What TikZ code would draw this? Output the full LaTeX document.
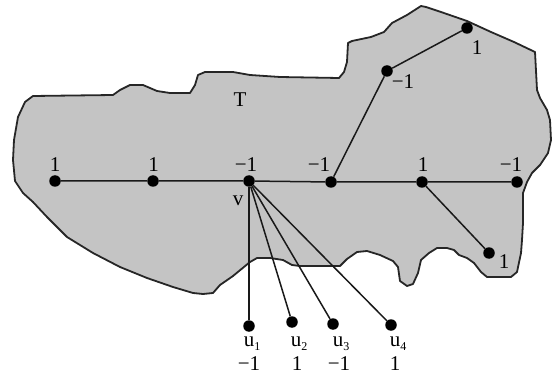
\documentclass[tikz,border=0pt]{standalone}
\usepackage{fontspec}
\setmainfont{Liberation Serif}
\begin{document}
\begin{tikzpicture}[x=1pt,y=-1pt,
  vtx/.style={circle,fill=black,inner sep=0pt,minimum size=11.5pt},
  edge/.style={line width=1.5pt,black!90},
  lbl/.style={anchor=base,inner sep=0pt,font=\fontsize{21}{21}\selectfont},
  region/.style={fill=black!23,draw=black!85,line width=1.8pt,line join=round}]
\useasboundingbox (0,0) rectangle (554,374);
% region T
\draw[region] (33,96) -- (113,95) -- (120,90) -- (130,85) -- (143,85) -- (157,91) -- (170,93) -- (190,93) -- (195,85) -- (198,75) -- (205,72) -- (233,72) -- (250,75) -- (280,77) -- (339,78) -- (344,72) -- (347,62) -- (348,43) -- (352,41) -- (371,37) -- (384,32) -- (392,23) -- (407,15) -- (421,6) -- (426,7) -- (441,12) -- (467,21) -- (491,32) -- (514,42) -- (535,52) -- (537,90) -- (540,98) -- (547,110) -- (550,120) -- (551,140) -- (548,153) -- (540,165) -- (532,173) -- (527,182) -- (523,193) -- (523,223) -- (522,240) -- (521,253) -- (517,272) -- (511,277) -- (487,277) -- (481,272) -- (474,263) -- (467,258) -- (459,255) -- (454,250) -- (447,248) -- (437,248) -- (429,253) -- (421,260) -- (418,273) -- (413,284) -- (407,286) -- (400,281) -- (398,267) -- (393,261) -- (380,255) -- (367,251) -- (357,252) -- (347,259) -- (340,266) -- (300,266) -- (292,265) -- (283,260) -- (270,258) -- (257,258) -- (250,262) -- (233,276) -- (220,285) -- (213,293) -- (203,294) -- (193,293) -- (173,287) -- (147,278) -- (120,267) -- (93,253) -- (67,237) -- (47,217) -- (33,202) -- (23,193) -- (15,181) -- (13,160) -- (14,140) -- (18,117) -- (25,102) -- cycle;
% vertices
\node[vtx] (a1) at (55,181) {};
\node[vtx] (a2) at (153,181) {};
\node[vtx] (v)  at (249,181) {};
\node[vtx] (a4) at (331,182) {};
\node[vtx] (a5) at (422,182) {};
\node[vtx] (a6) at (517,182) {};
\node[vtx] (b1) at (387,71) {};
\node[vtx] (b2) at (467,28) {};
\node[vtx] (c1) at (489,253) {};
\node[vtx] (u1) at (249,326) {};
\node[vtx] (u2) at (292,322) {};
\node[vtx] (u3) at (333,324) {};
\node[vtx] (u4) at (391,325) {};
% edges
\draw[edge] (a1) -- (a2) -- (v) -- (a4) -- (a5) -- (a6);
\draw[edge] (a4) -- (b1) -- (b2);
\draw[edge] (a5) -- (c1);
\draw[edge] (v) -- (u1);
\draw[edge] (v) -- (u2);
\draw[edge] (v) -- (u3);
\draw[edge] (v) -- (u4);
% labels
\node[lbl] (la1) at (55,172) {1};
\node[lbl] (la2) at (153.5,172) {1};
\node[lbl] (lv)  at (246,172) {−1};
\node[lbl] (la4) at (319,172) {−1};
\node[lbl] (la5) at (423,172) {1};
\node[lbl] (la6) at (511,172) {−1};
\node[lbl] (lb1) at (403,89) {−1};
\node[lbl] (lb2) at (477,55) {1};
\node[lbl] (lc1) at (504,268) {1};
\node[lbl] (vname) at (238,206) {v};
\node[lbl] (tname) at (240,107) {T};
\node[lbl] (nu1) at (249,346) {u\rlap{\raisebox{-0.45ex}{\fontsize{12}{12}\selectfont 1}}};
\node[lbl] (nu2) at (296,346) {u\rlap{\raisebox{-0.45ex}{\fontsize{12}{12}\selectfont 2}}};
\node[lbl] (nu3) at (338,346) {u\rlap{\raisebox{-0.45ex}{\fontsize{12}{12}\selectfont 3}}};
\node[lbl] (nu4) at (395,346) {u\rlap{\raisebox{-0.45ex}{\fontsize{12}{12}\selectfont 4}}};
\node[lbl] (wu1) at (249,370) {−1};
\node[lbl] (wu2) at (297,370) {1};
\node[lbl] (wu3) at (339,370) {−1};
\node[lbl] (wu4) at (395,370) {1};
\end{tikzpicture}
\end{document}
